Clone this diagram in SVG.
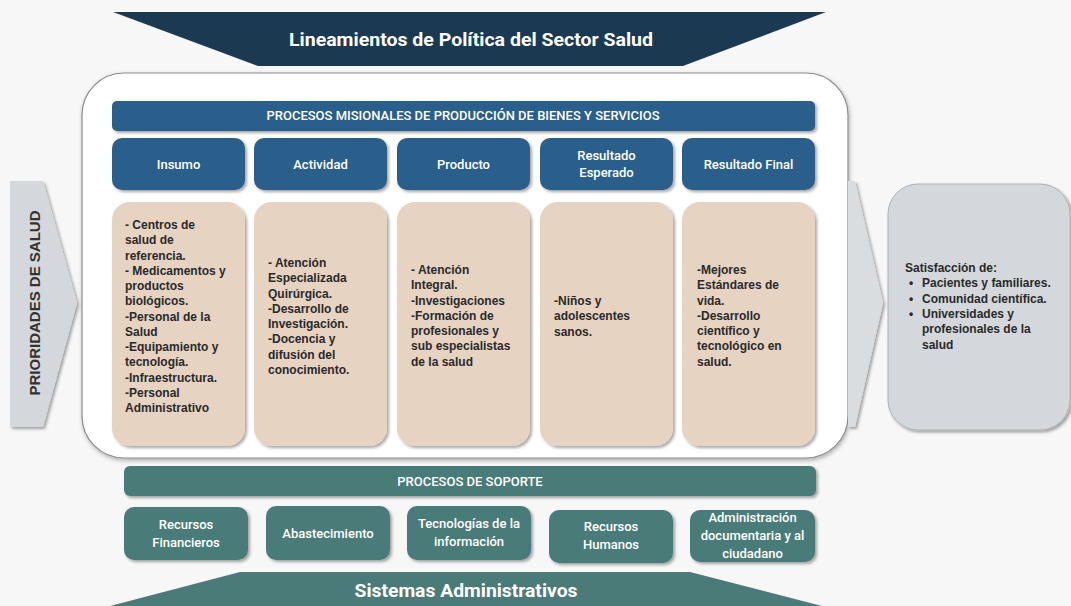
<svg xmlns="http://www.w3.org/2000/svg" width="1071" height="606" viewBox="0 0 1071 606">
<defs>
<filter id="sh" x="-10%" y="-10%" width="130%" height="130%">
<feDropShadow dx="2" dy="2" stdDeviation="1.5" flood-color="#000" flood-opacity="0.35"/>
</filter>
<filter id="sh2" x="-10%" y="-10%" width="130%" height="130%">
<feDropShadow dx="1" dy="2" stdDeviation="2" flood-color="#000" flood-opacity="0.3"/>
</filter>
</defs>
<style>
.blue{fill:#2a5e8b}
.teal{fill:#4a7b79}
.beige{fill:#e6d3c2}
.hd{font-family:Roboto,"Liberation Sans",sans-serif;font-weight:500;font-size:13px;fill:#fff;text-anchor:middle}
.big{font-family:Roboto,"Liberation Sans",sans-serif;font-weight:bold;font-size:18px;fill:#fff;text-anchor:middle}
.bd{font-family:"Liberation Sans",Arial,sans-serif;font-weight:bold;font-size:12px;fill:#2a2a2a}
</style>
<rect width="1071" height="606" fill="#f7f7f7"/>

<g id="lineamientos">
<polygon points="113,12 826,12 683,66 258,66" fill="#1b3a52"/>
<text class="big" x="471" y="46" textLength="364" lengthAdjust="spacingAndGlyphs">Lineamientos de Política del Sector Salud</text>
</g>

<g id="contenedor">
<rect x="82" y="73" width="766" height="385" rx="42" fill="#fff" stroke="#8a8a8a" stroke-width="1.2" filter="url(#sh2)"/>
</g>

<g id="procesos-misionales">
<rect class="blue" x="112" y="101" width="703" height="30" rx="5" filter="url(#sh)"/>
<text class="hd" x="463" y="120" textLength="393" lengthAdjust="spacingAndGlyphs">PROCESOS MISIONALES DE PRODUCCIÓN DE BIENES Y SERVICIOS</text>
</g>

<g id="h-insumo"><rect class="blue" x="112" y="138" width="133" height="52" rx="10" filter="url(#sh)"/><text class="hd" x="178.5" y="168.5">Insumo</text></g>
<g id="h-actividad"><rect class="blue" x="254" y="138" width="133" height="52" rx="10" filter="url(#sh)"/><text class="hd" x="320.5" y="168.5">Actividad</text></g>
<g id="h-producto"><rect class="blue" x="397" y="138" width="133" height="52" rx="10" filter="url(#sh)"/><text class="hd" x="463.5" y="168.5">Producto</text></g>
<g id="h-resultado-esperado"><rect class="blue" x="540" y="138" width="133" height="52" rx="10" filter="url(#sh)"/><text class="hd" x="606.5" y="160">Resultado</text><text class="hd" x="606.5" y="177">Esperado</text></g>
<g id="h-resultado-final"><rect class="blue" x="682" y="138" width="133" height="52" rx="10" filter="url(#sh)"/><text class="hd" x="748.5" y="168.5">Resultado Final</text></g>

<g id="c-insumo"><rect class="beige" x="112" y="202" width="133" height="244" rx="18" filter="url(#sh)"/>
<text class="bd" x="125" y="229"><tspan x="125">- Centros de</tspan><tspan x="125" dy="15.25">salud de</tspan><tspan x="125" dy="15.25">referencia.</tspan><tspan x="125" dy="15.25">- Medicamentos y</tspan><tspan x="125" dy="15.25">productos</tspan><tspan x="125" dy="15.25">biológicos.</tspan><tspan x="125" dy="15.25">-Personal de la</tspan><tspan x="125" dy="15.25">Salud</tspan><tspan x="125" dy="15.25">-Equipamiento y</tspan><tspan x="125" dy="15.25">tecnología.</tspan><tspan x="125" dy="15.25">-Infraestructura.</tspan><tspan x="125" dy="15.25">-Personal</tspan><tspan x="125" dy="15.25">Administrativo</tspan></text></g>

<g id="c-actividad"><rect class="beige" x="254" y="202" width="133" height="244" rx="18" filter="url(#sh)"/>
<text class="bd" x="268" y="267"><tspan x="268">- Atención</tspan><tspan x="268" dy="15.25">Especializada</tspan><tspan x="268" dy="15.25">Quirúrgica.</tspan><tspan x="268" dy="15.25">-Desarrollo de</tspan><tspan x="268" dy="15.25">Investigación.</tspan><tspan x="268" dy="15.25">-Docencia y</tspan><tspan x="268" dy="15.25">difusión del</tspan><tspan x="268" dy="15.25">conocimiento.</tspan></text></g>

<g id="c-producto"><rect class="beige" x="397" y="202" width="133" height="244" rx="18" filter="url(#sh)"/>
<text class="bd" x="411" y="274"><tspan x="411">- Atención</tspan><tspan x="411" dy="15.25">Integral.</tspan><tspan x="411" dy="15.25">-Investigaciones</tspan><tspan x="411" dy="15.25">-Formación de</tspan><tspan x="411" dy="15.25">profesionales y</tspan><tspan x="411" dy="15.25">sub especialistas</tspan><tspan x="411" dy="15.25">de la salud</tspan></text></g>

<g id="c-resultado-esperado"><rect class="beige" x="540" y="202" width="133" height="244" rx="18" filter="url(#sh)"/>
<text class="bd" x="554" y="305"><tspan x="554">-Niños y</tspan><tspan x="554" dy="15.25">adolescentes</tspan><tspan x="554" dy="15.25">sanos.</tspan></text></g>

<g id="c-resultado-final"><rect class="beige" x="682" y="202" width="133" height="244" rx="18" filter="url(#sh)"/>
<text class="bd" x="697" y="274"><tspan x="697">-Mejores</tspan><tspan x="697" dy="15.25">Estándares de</tspan><tspan x="697" dy="15.25">vida.</tspan><tspan x="697" dy="15.25">-Desarrollo</tspan><tspan x="697" dy="15.25">científico y</tspan><tspan x="697" dy="15.25">tecnológico en</tspan><tspan x="697" dy="15.25">salud.</tspan></text></g>

<g id="prioridades">
<polygon points="10,181 43,181 77,303 43,427 10,427" fill="#d4d8dc" filter="url(#sh)"/>
<text transform="translate(40,303) rotate(-90)" text-anchor="middle" font-family="Liberation Sans, Arial, sans-serif" font-weight="bold" font-size="15" fill="#333">PRIORIDADES DE SALUD</text>
</g>

<g id="flecha-derecha">
<polygon points="848,181 855,181 883,303 855,427 848,427" fill="#dadde0" filter="url(#sh)"/>
</g>

<g id="satisfaccion">
<rect x="888" y="184" width="182" height="246" rx="30" fill="#d4d8dc" stroke="#aab0b6" stroke-width="1" filter="url(#sh)"/>
<text class="bd" x="905" y="272">Satisfacción de:</text>
<text class="bd"><tspan x="909" y="287">•</tspan><tspan x="922" y="287">Pacientes y familiares.</tspan><tspan x="909" y="303">•</tspan><tspan x="922" y="303">Comunidad científica.</tspan><tspan x="909" y="318">•</tspan><tspan x="922" y="318">Universidades y</tspan><tspan x="922" y="333">profesionales de la</tspan><tspan x="922" y="349">salud</tspan></text>
</g>

<g id="procesos-soporte">
<rect class="teal" x="124" y="466" width="692" height="30" rx="6" filter="url(#sh)"/>
<text class="hd" x="470" y="485.5">PROCESOS DE SOPORTE</text>
</g>

<g id="s-financieros"><rect class="teal" x="124" y="507" width="124" height="53" rx="10" filter="url(#sh)"/><text class="hd" x="186" y="529">Recursos</text><text class="hd" x="186" y="547">Financieros</text></g>
<g id="s-abastecimiento"><rect class="teal" x="266" y="506" width="124" height="54" rx="10" filter="url(#sh)"/><text class="hd" x="328" y="538">Abastecimiento</text></g>
<g id="s-tecnologias"><rect class="teal" x="407" y="506" width="124" height="54" rx="10" filter="url(#sh)"/><text class="hd" x="469" y="528">Tecnologías de la</text><text class="hd" x="469" y="546">información</text></g>
<g id="s-humanos"><rect class="teal" x="549" y="510" width="124" height="53" rx="10" filter="url(#sh)"/><text class="hd" x="611" y="531">Recursos</text><text class="hd" x="611" y="549">Humanos</text></g>
<g id="s-administracion"><rect class="teal" x="690" y="510" width="125" height="52" rx="10" filter="url(#sh)"/><text class="hd" x="752.5" y="522">Administración</text><text class="hd" x="752.5" y="540">documentaria y al</text><text class="hd" x="752.5" y="558">ciudadano</text></g>

<g id="sistemas-administrativos">
<polygon points="240,572 690,572 822,606 110,606" fill="#4a7b79"/>
<text class="big" x="466" y="597" textLength="223" lengthAdjust="spacingAndGlyphs">Sistemas Administrativos</text>
</g>
</svg>
